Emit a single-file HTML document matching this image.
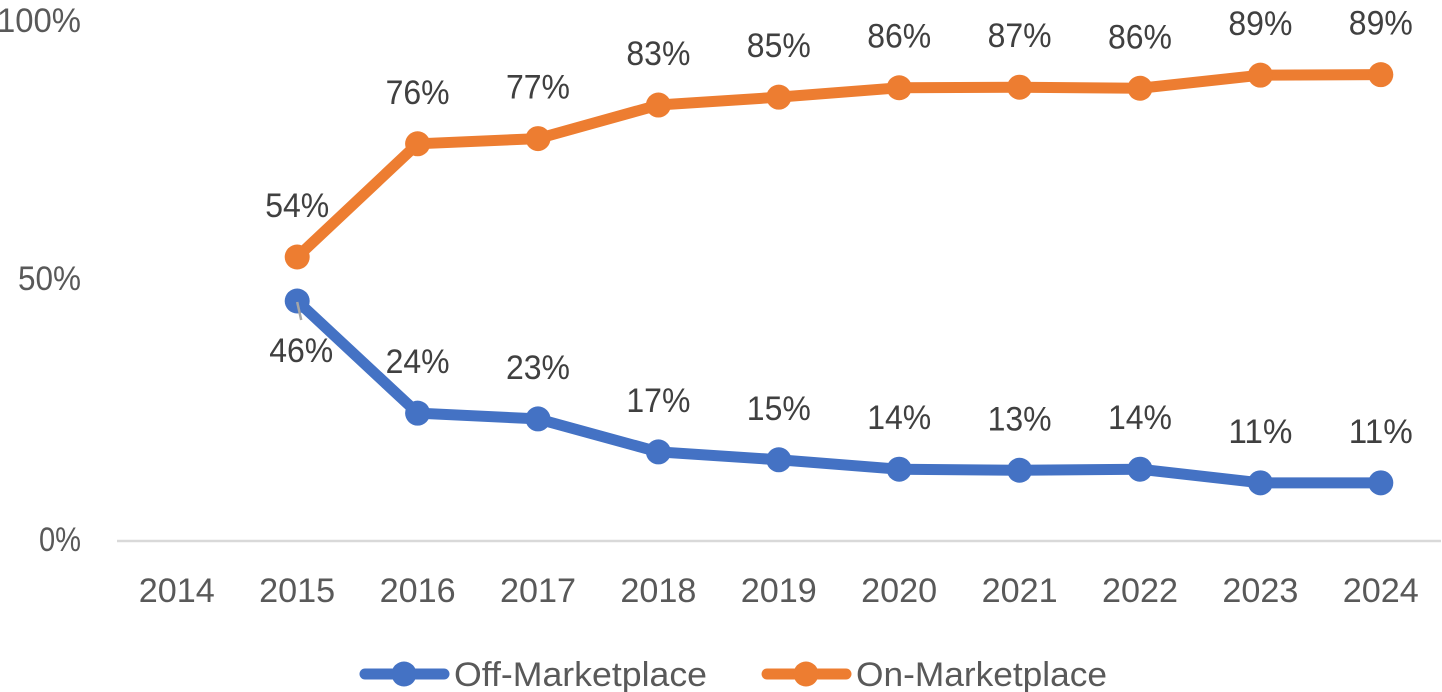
<!DOCTYPE html>
<html lang="en">
<head>
<meta charset="utf-8">
<title>Off-Marketplace vs On-Marketplace share</title>
<style>
html,body{margin:0;padding:0;background:#fff;width:1442px;height:692px;overflow:hidden}
svg{display:block}
text{font-family:"Liberation Sans",sans-serif}
</style>
</head>
<body>
<svg id="chart" width="1442" height="692" viewBox="0 0 1442 692" xmlns="http://www.w3.org/2000/svg">
  <g id="grid"></g>
  <g id="marks"></g>
  <g id="labels"></g>
  <g>
    <g>
      <line x1="365" y1="674" x2="444" y2="674" stroke="#4472c4" stroke-width="11" stroke-linecap="round"/>
      <circle cx="404" cy="674" r="12.5" fill="#4472c4"/>
      <text x="454" y="686" font-size="34" fill="#595959" textLength="253" lengthAdjust="spacingAndGlyphs">Off-Marketplace</text>
    </g>
    <g>
      <line x1="767" y1="674" x2="846" y2="674" stroke="#ed7d31" stroke-width="11" stroke-linecap="round"/>
      <circle cx="806" cy="674" r="12.5" fill="#ed7d31"/>
      <text x="856" y="686" font-size="34" fill="#595959" textLength="251" lengthAdjust="spacingAndGlyphs">On-Marketplace</text>
    </g>
  </g>
</svg>
<script>
const years = ['2014','2015','2016','2017','2018','2019','2020','2021','2022','2023','2024'];
const yTicks = [0, 50, 100];
const yTickLabels = ['0%','50%','100%'];
const offMarketplace = [null,45.8,24.4,23.3,17,15.5,13.7,13.5,13.7,11.1,11.1];
const onMarketplace = [null,54.2,75.8,76.8,83.2,84.7,86.5,86.6,86.4,88.9,89];
const offLabels = ['','46%','24%','23%','17%','15%','14%','13%','14%','11%','11%'];
const onLabels = ['','54%','76%','77%','83%','85%','86%','87%','86%','89%','89%'];

const NS = 'http://www.w3.org/2000/svg';
const xScale = i => 176.8 + i * 120.4;
const yScale = v => 541 - v * 5.24;

function make(tag, attrs, parent, content) {
  const el = document.createElementNS(NS, tag);
  for (const k in attrs) el.setAttribute(k, attrs[k]);
  if (content !== undefined) el.textContent = content;
  parent.appendChild(el);
  return el;
}

const grid = document.getElementById('grid');
const marks = document.getElementById('marks');
const labels = document.getElementById('labels');

const axisLine = make('line', {x1:117, x2:1441, y1:yScale(0), y2:yScale(0), stroke:'#d9d9d9', 'stroke-width':2.5}, grid);



yTicks.forEach((t, i) => {
  const shift = t === 100 ? 3 : (t === 50 ? -1 : -2);
  const el = make('text', {x:81, y:yScale(t) + 12 + shift, 'text-anchor':'end', 'font-size':34, fill:'#595959', textLength:yTickLabels[i].length * 21, lengthAdjust:'spacingAndGlyphs'}, grid, yTickLabels[i]);
  
  
});

years.forEach((y, i) => {
  const el = make('text', {x:xScale(i), y:602, 'text-anchor':'middle', 'font-size':34, fill:'#595959', textLength:76, lengthAdjust:'spacingAndGlyphs'}, grid, y);
  
  
});

function drawSeries(values, color, name) {
  const pts = [];
  values.forEach((v, i) => { if (v !== null) pts.push(xScale(i) + ',' + yScale(v)); });
  const line = make('polyline', {points:pts.join(' '), fill:'none', stroke:color, 'stroke-width':11, 'stroke-linejoin':'round', 'stroke-linecap':'round'}, marks);
  
  
  values.forEach((v, i) => {
    if (v === null) return;
    const c = make('circle', {cx:xScale(i), cy:yScale(v), r:12.5, fill:color}, marks);
    
    
  });
}
drawSeries(offMarketplace, '#4472c4', 'off');
drawSeries(onMarketplace, '#ed7d31', 'on');

function drawLabels(values, texts) {
  values.forEach((v, i) => {
    if (v === null) return;
    const below = texts === offLabels && i === 1;
    const dx = below ? 4 : 0;
    const yPos = below ? yScale(v) + 50 + 11 : yScale(v) - 51 + 11;
    const t = make('text', {x:xScale(i) + dx, y:yPos, 'text-anchor':'middle', 'font-size':34, fill:'#404040', textLength:64, lengthAdjust:'spacingAndGlyphs'}, labels, texts[i]);
    
    
  });
}
drawLabels(onMarketplace, onLabels);
drawLabels(offMarketplace, offLabels);

const leader = make('line', {x1:xScale(1), y1:yScale(offMarketplace[1]) + 1, x2:xScale(1) + 4, y2:yScale(offMarketplace[1]) + 19, stroke:'#a6a6a6', 'stroke-width':2.5}, labels);


</script>
</body>
</html>
